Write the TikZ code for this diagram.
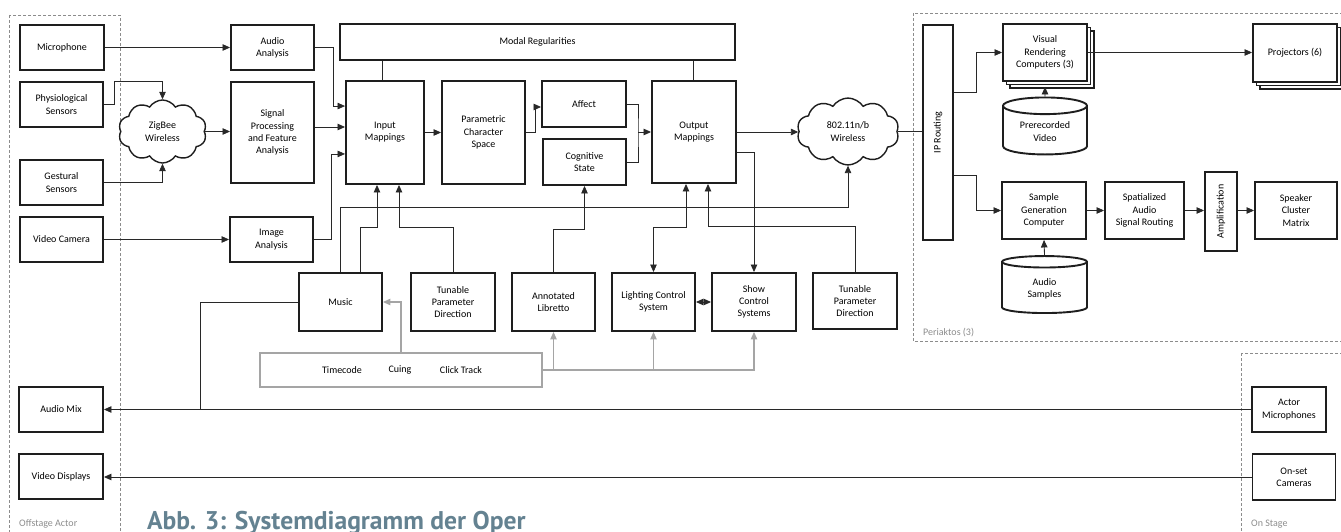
\documentclass[tikz,border=0pt]{standalone}
\usepackage{fontspec}
\setmainfont{Carlito}
\newfontfamily\titlefont{PT Sans}
\usetikzlibrary{arrows.meta,calc,shapes.symbols,shapes.geometric,shadows}

\definecolor{boxline}{RGB}{30,30,30}
\definecolor{wire}{RGB}{40,40,40}
\definecolor{cueline}{RGB}{165,165,165}
\definecolor{zoneline}{RGB}{140,140,140}
\definecolor{titleblue}{RGB}{100,130,145}

\tikzset{
    blk/.style={draw=boxline, line width=1.9pt, fill=white, align=center, inner sep=1pt},
    stack/.style={blk, double copy shadow={shadow xshift=3.5pt, shadow yshift=-3.5pt}},
    store/.style={blk, cylinder, shape border rotate=90, aspect=0.32},
    net/.style={draw=boxline, line width=1.4pt, fill=white, cloud, cloud puffs=10, cloud puff arc=115, align=center, inner sep=0pt},
    wir/.style={draw=wire, line width=0.85pt},
    arr/.style={wir, -{Triangle[length=7.5pt,width=6.5pt]}},
    arrboth/.style={wir, {Triangle[length=7.5pt,width=6.5pt]}-{Triangle[length=7.5pt,width=6.5pt]}},
    cue/.style={draw=cueline, line width=1.1pt},
    cuearr/.style={cue, -{Triangle[length=7.5pt,width=6.5pt]}},
    zone/.style={draw=zoneline, line width=0.7pt, dash pattern=on 3pt off 2pt},
    zonetext/.style={text=zoneline, anchor=west, inner sep=0pt}
}

\begin{document}
\begin{tikzpicture}[x=1pt, y=-1pt, font=\fontsize{10}{12.3}\selectfont]
    \useasboundingbox (0,0) rectangle (1341,532);

    % zones
    \draw[zone] (9,15) rectangle (120,545);
    \draw[zone] (913,13) rectangle (1350,341);
    \draw[zone] (1241,353) rectangle (1350,545);
    \node[zonetext] (offlbl) at (19,524) {Offstage Actor};
    \node[zonetext] (perlbl) at (923,333) {Periaktos (3)};
    \node[zonetext] (stagelbl) at (1251,524) {On Stage};

    % offstage sensors
    \node[blk, minimum width=84, minimum height=45] (mic) at (62,47.5) {Microphone};
    \node[blk, minimum width=83, minimum height=45] (phys) at (61.5,104.5) {Physiological\\Sensors};
    \node[blk, minimum width=83, minimum height=45] (gest) at (61.5,182.5) {Gestural\\Sensors};
    \node[blk, minimum width=83, minimum height=45] (vcam) at (61.5,239.5) {Video Camera};
    \node[blk, minimum width=84, minimum height=45] (audmix) at (61,409.5) {Audio Mix};
    \node[blk, minimum width=84, minimum height=45] (vdisp) at (61,476.5) {Video Displays};

    \node[net, minimum width=88, minimum height=63] (zigbee) at (162.5,131.5) {ZigBee\\Wireless};

    % analysis
    \node[blk, minimum width=83, minimum height=45] (audan) at (272.5,47.5) {Audio\\Analysis};
    \node[blk, minimum width=83, minimum height=101] (sigproc) at (272.5,132.5) {Signal\\Processing\\and Feature\\Analysis};
    \node[blk, minimum width=83, minimum height=45] (imgan) at (271.5,239.5) {Image\\Analysis};

    % mappings
    \node[blk, minimum width=395, minimum height=36] (modal) at (537.5,42) {Modal Regularities};
    \node[blk, minimum width=78, minimum height=103] (inmap) at (385,132.5) {Input\\Mappings};
    \node[blk, minimum width=83, minimum height=103] (param) at (483.5,132.5) {Parametric\\Character\\Space};
    \node[blk, minimum width=84, minimum height=46] (affect) at (584,104) {Affect};
    \node[blk, minimum width=83, minimum height=46] (cogn) at (584.5,162) {Cognitive\\State};
    \node[blk, minimum width=84, minimum height=102] (outmap) at (694,132) {Output\\Mappings};
    \node[net, minimum width=102, minimum height=63] (wifi) at (848,131.5) {802.11n/b\\Wireless};

    % lower row
    \node[blk, minimum width=83, minimum height=58] (music) at (340.5,302) {Music};
    \node[blk, minimum width=84, minimum height=58] (tunL) at (453,302) {Tunable\\Parameter\\Direction};
    \node[blk, minimum width=83, minimum height=58] (libretto) at (553.5,302) {Annotated\\Libretto};
    \node[blk, minimum width=83, minimum height=58] (light) at (653.5,302) {Lighting Control\\System};
    \node[blk, minimum width=84, minimum height=58] (show) at (754,302) {Show\\Control\\Systems};
    \node[blk, minimum width=84, minimum height=56] (tunR) at (855,301) {Tunable\\Parameter\\Direction};
    \node[blk, draw=cueline, minimum width=282, minimum height=34] (timecode) at (401,370) {};
    \node (tclbl) at (342,370) {Timecode};
    \node (cuelbl) at (400,370) {Cuing};
    \node (clicklbl) at (461,370) {Click Track};

    % periaktos
    \node[blk, minimum width=30, minimum height=215, label={[rotate=90]center:IP Routing}] (iprout) at (938,132.5) {};
    \node[stack, minimum width=84, minimum height=57] (visual) at (1045,52.5) {Visual\\Rendering\\Computers (3)};
    \node[stack, minimum width=84, minimum height=58] (proj) at (1295,53) {Projectors (6)};
    \node[store, minimum width=84, minimum height=57] (prevideo) at (1045,131.5) {Prerecorded\\Video};
    \node[blk, minimum width=84, minimum height=57] (sample) at (1044,210.5) {Sample\\Generation\\Computer};
    \node[blk, minimum width=79, minimum height=57] (spatial) at (1144.5,210.5) {Spatialized\\Audio\\Signal Routing};
    \node[blk, minimum width=32, minimum height=79, label={[rotate=90]center:Amplification}] (amp) at (1221,211.5) {};
    \node[blk, minimum width=82, minimum height=57] (speaker) at (1296,210.5) {Speaker\\Cluster\\Matrix};
    \node[store, minimum width=85, minimum height=57] (audsamp) at (1044.5,288.5) {Audio\\Samples};

    % on stage
    \node[blk, minimum width=74, minimum height=45] (actmic) at (1289,409.5) {Actor\\Microphones};
    \node[blk, minimum width=83, minimum height=46] (onset) at (1294,477) {On-set\\Cameras};

    % sensors to analysis
    \draw[arr] (mic) -- (audan);
    \draw[arr] (phys.east) -- ++(10,0) |- ([yshift=18pt]zigbee.north) -- (zigbee.north);
    \draw[arr] (gest.east) -| (zigbee.south);
    \draw[arr] (zigbee.east) -- (zigbee.east -| sigproc.west);
    \draw[arr] (vcam.east) -- (vcam.east -| imgan.west);

    % analysis to input mappings
    \draw[arr] (audan.east) -- ++(18,0) |- ([yshift=-26pt]inmap.north west);
    \draw[arr] ([yshift=5.5pt]sigproc.east) -- ([yshift=5.5pt]sigproc.east -| inmap.west);
    \draw[arr] (imgan.east) -- ++(17,0) |- ([yshift=31pt]inmap.south west);

    % core chain
    \draw[wir] ([xshift=-3pt]inmap.north) -- ([xshift=-3pt]inmap.north |- modal.south);
    \draw[wir] ([xshift=-1pt]outmap.north) -- ([xshift=-1pt]outmap.north |- modal.south);
    \draw[arr] (inmap) -- (param);
    \draw[arr] (param.east) -- ++(9,0) |- ([yshift=-3pt]affect.west);
    \coordinate (join) at (638,132);
    \draw[wir] (affect.east) -| (join) |- (cogn.east);
    \draw[arr] (join) -- (join -| outmap.west);
    \draw[arr] (outmap.east) -- (outmap.east -| wifi.west);
    \draw[wir] (wifi.east) -- (wifi.east -| iprout.west);

    % lower row to mappings
    \draw[arr] (music.north) -- ++(0,-65) -| (wifi.south);
    \draw[arr] ([xshift=20pt]music.north) -- ++(0,-45) -| ([xshift=-8pt]inmap.south);
    \draw[arr] (tunL.north) -- ++(0,-45) -| ([xshift=14pt]inmap.south);
    \draw[arr] (libretto.north) -- ++(0,-43) -| (cogn.south);
    \draw[arrboth] (light.north) -- ++(0,-45) -| ([xshift=-8pt]outmap.south);
    \draw[arr] ([yshift=-20pt]outmap.east) -| (show.north);
    \draw[arr] (tunR.north) -- ++(0,-46) -| ([xshift=14pt]outmap.south);
    \draw[arrboth] (light.east) -- (show.west);

    % cues
    \draw[cuearr] (timecode.north) |- (music.east);
    \draw[cuearr] (timecode.east) -| (show.south);
    \draw[cuearr] (libretto.south |- timecode.east) -- (libretto.south);
    \draw[cuearr] (light.south |- timecode.east) -- (light.south);

    % periaktos
    \draw[arr] ([yshift=40.5pt]iprout.east) -- ++(22,0) |- (visual.west);
    \draw[arr] ([yshift=-42.5pt]iprout.east) -- ++(22,0) |- (sample.west);
    \draw[arr] (visual.east) -- (visual.east -| proj.west);
    \draw[arr] (prevideo.north) -- ([yshift=-5pt]visual.south);
    \draw[arr] (sample) -- (spatial);
    \draw[arr] (spatial.east) -- (spatial.east -| amp.west);
    \draw[arr] (amp.east |- speaker.west) -- (speaker.west);
    \draw[arr] (audsamp.north) -- (sample.south);

    % stage feeds
    \coordinate (mixjoin) at (200,409.5);
    \draw[wir] (music.west) -| (mixjoin);
    \draw[arr] (actmic.west) -- (actmic.west -| audmix.east);
    \draw[arr] (onset.west) -- (onset.west -| vdisp.east);

    \node[anchor=base west, inner sep=0pt, text=titleblue, font=\titlefont\bfseries\fontsize{25.6}{28}\selectfont] (title) at (147,529) {Abb. 3: Systemdiagramm der Oper};
\end{tikzpicture}
\end{document}
